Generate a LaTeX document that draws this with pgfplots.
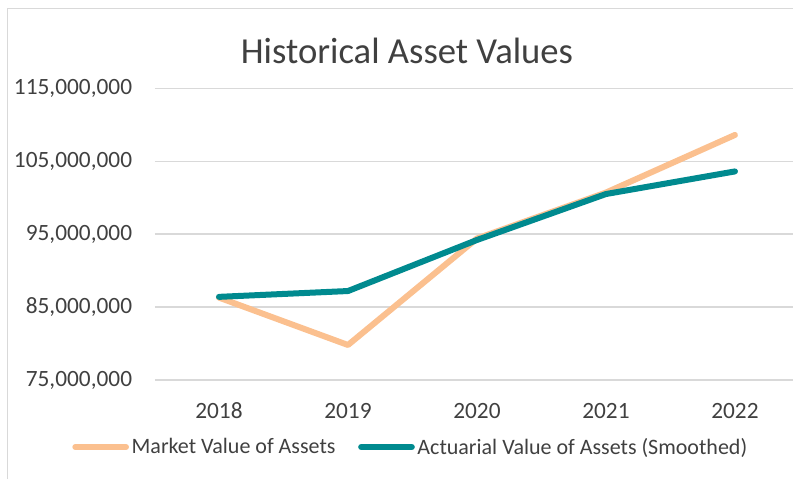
\documentclass[border=0pt]{standalone}
\usepackage{pgfplots}
\pgfplotsset{compat=1.18}
\usepackage{fontspec}
\setmainfont{Carlito}

\definecolor{mva}{HTML}{FBC08F}
\definecolor{ava}{HTML}{008A8F}
\definecolor{gridgray}{HTML}{D9D9D9}
\definecolor{txt}{HTML}{404040}

\begin{document}
\begin{tikzpicture}[x=0.75pt,y=-0.75pt]
\path[use as bounding box] (0,0) rectangle (793,479);
\draw[gridgray, line width=1pt] (7.5,479) -- (7.5,8.5) -- (793,8.5);
\coordinate (origin) at (155,380);
\begin{axis}[
    at={(origin)}, anchor=south west,
    scale only axis,
    width=478.5pt, height=218.8pt,
    xmin=-0.496, xmax=4.45,
    ymin=75000000, ymax=115000000,
    axis line style={draw=none},
    major tick style={draw=none},
    ymajorgrids=true,
    grid style={gridgray, line width=1pt},
    xtick={0,1,2,3,4},
    xticklabels={2018,2019,2020,2021,2022},
    ytick={75000000,85000000,95000000,105000000,115000000},
    scaled y ticks=false,
    /pgf/number format/assume math mode=true,
    yticklabel style={/pgf/number format/fixed, /pgf/number format/precision=0,
      /pgf/number format/1000 sep={,}},
    xticklabel style={inner sep=0pt, yshift=-17pt},
    yticklabel style={inner sep=0pt, xshift=-17pt},
    tick label style={font=\fontsize{17.5}{21}\selectfont, text=txt},
    title={Historical Asset Values},
    every axis title shift=0pt,
    title style={at={(0.395,1.0833)}, anchor=base, yshift=0pt, inner sep=0pt,
      font=\fontsize{27.5}{32}\selectfont, text=txt},
    legend columns=2,
    legend cell align=left,
    legend style={draw=none, fill=none, at={(-0.130,-0.2297)}, anchor=west,
      inner sep=0pt, font=\fontsize{16.5}{20}\selectfont, text=txt,
      /tikz/every even column/.append style={column sep=15pt}},
    legend image code/.code={\draw[#1, line cap=round] (0pt,0pt) -- (38pt,0pt);},
]
\addplot[mva, line width=4.5pt, line cap=round, line join=round]
  coordinates {(0,86300000) (1,79800000) (2,94400000) (3,100700000) (4,108600000)};
\addlegendentry{Market Value of Assets}
\addplot[ava, line width=4.5pt, line cap=round, line join=round]
  coordinates {(0,86400000) (1,87200000) (2,94200000) (3,100500000) (4,103600000)};
\addlegendentry{Actuarial Value of Assets (Smoothed)}
\end{axis}
\end{tikzpicture}
\end{document}
